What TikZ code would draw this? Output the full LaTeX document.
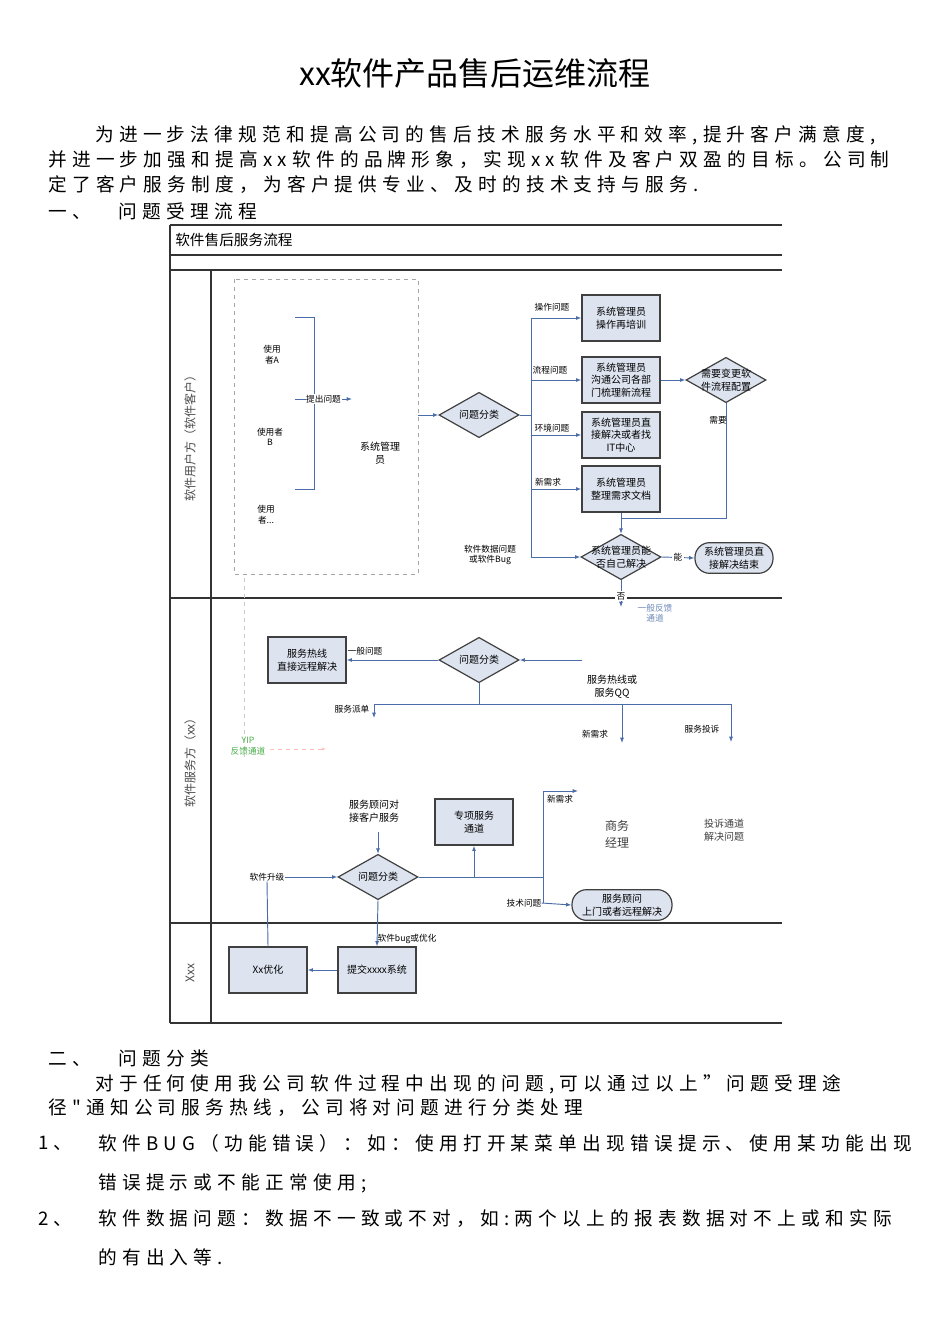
\documentclass[tikz,border=0pt]{standalone}
\usepackage{fontspec}
\setmainfont{Noto Sans CJK SC}
\newfontfamily\bodyfont[LetterSpace=28]{Noto Sans CJK SC}
\usetikzlibrary{shapes.geometric,arrows.meta}
\definecolor{bfill}{HTML}{DDE4F0}
\definecolor{lblue}{HTML}{4A6DA7}
\begin{document}
\begin{tikzpicture}[x=0.75pt,y=-0.75pt,
  body/.style={anchor=west,inner sep=0pt,font=\bodyfont\fontsize{14}{16}\selectfont},
  sm/.style={inner sep=0pt,font=\fontsize{6.5}{8}\selectfont,align=center},
  md/.style={inner sep=0pt,font=\fontsize{7.5}{9.5}\selectfont,align=center},
  bx/.style={draw=black!75,line width=0.9pt,fill=bfill,minimum width=58.5pt,minimum height=34.5pt,inner sep=1pt,align=center,font=\fontsize{7.5}{9.5}\selectfont},
  rbx/.style={bx,rounded corners=11pt,minimum height=23pt,minimum width=58.5pt},
  dia/.style={draw=black!75,line width=0.9pt,fill=bfill,diamond,minimum width=60pt,minimum height=34pt,inner sep=0pt},
  ln/.style={draw=lblue,line width=0.7pt},
  ar/.style={ln,-{Latex[length=4pt,width=3pt]}},
  frame/.style={line width=0.9pt,black!80}]
\useasboundingbox (0,0) rectangle (950,1344);
\fill[white] (0,0) rectangle (950,1344);
% title and text
\node[inner sep=0pt,font=\fontsize{24}{28}\selectfont] (title) at (475,73) {xx软件产品售后运维流程};
\node[body] (p1) at (95,135) {为进一步法律规范和提高公司的售后技术服务水平和效率,提升客户满意度,};
\node[body] (p2) at (48,160) {并进一步加强和提高xx软件的品牌形象，实现xx软件及客户双盈的目标。公司制};
\node[body] (p3) at (48,185) {定了客户服务制度，为客户提供专业、及时的技术支持与服务.};
\node[body] (h1) at (48,211) {一、\quad\ 问题受理流程};
% frame
\draw[frame] (170,225) -- (782,225);
\draw[frame] (170,255) -- (782,255);
\draw[frame] (170,270) -- (782,270);
\draw[frame] (170,598) -- (782,598);
\draw[frame] (170,923) -- (782,923);
\draw[frame] (170,1023) -- (782,1023);
\draw[frame] (170,225) -- (170,1023);
\draw[frame] (211,270) -- (211,1023);
\node[anchor=west,inner sep=0pt,font=\fontsize{11}{13}\selectfont] (hdr) at (175,240) {软件售后服务流程};
\node[rotate=90,md,text=black!70,font=\fontsize{9}{11}\selectfont] (lane1) at (190,435) {软件用户方（软件客户）};
\node[rotate=90,md,text=black!70,font=\fontsize{9}{11}\selectfont] (lane2) at (190,760) {软件服务方（xx）};
\node[rotate=90,md,text=black!70,font=\fontsize{9}{11}\selectfont] (lane3) at (190,973) {Xxx};
% lane 1
\draw[dashed,black!35,line width=0.6pt] (234,279) rectangle (418,574);
\coordinate (dbr) at (418,415);
\node[sm] (ua) at (272,355) {使用\\者A};
\node[sm] (ub) at (270,437) {使用者\\B};
\node[sm] (uc) at (266,515) {使用\\者...};
\node[md] (sa) at (380,453) {系统管理\\员};
\draw[ln] (295,317) -- (314,317) -- (314,489) -- (295,489);
\coordinate (tq0) at (295,399);
\coordinate (tq1) at (352,399);
\draw[ar] (tq0) -- node[sm,fill=white,inner sep=0.5pt] {提出问题} (tq1);
\node[dia] (d1) at (479,415) {};
\node[md] (d1t) at (d1) {问题分类};
\draw[ar] (dbr) -- (d1.west);
\node[bx] (b1) at (621,318) {系统管理员\\操作再培训};
\node[bx] (b2) at (621,380) {系统管理员\\沟通公司各部\\门梳理新流程};
\node[bx] (b3) at (621,435) {系统管理员直\\接解决或者找\\IT中心};
\node[bx] (b4) at (621,489) {系统管理员\\整理需求文档};
\coordinate (tr0) at (531,318);
\coordinate (tr1) at (531,557);
\draw[ln] (d1.east) -- (531,415);
\draw[ln] (tr0) -- (tr1);
\draw[ar] (tr0) -- (b1.west);
\draw[ar] (531,380) -- (b2.west);
\draw[ar] (531,435) -- (b3.west);
\draw[ar] (531,489) -- (b4.west);
\node[sm] (l1) at (552,307) {操作问题};
\node[sm] (l2) at (550,370) {流程问题};
\node[sm] (l3) at (552,428) {环境问题};
\node[sm] (l4) at (548,482) {新需求};
\node[dia] (d2) at (726,380) {};
\node[md] (d2t) at (d2) {需要变更软\\件流程配置};
\draw[ar] (b2.east) -- (d2.west);
\node[dia] (d3) at (621,557) {};
\node[md] (d3t) at (d3) {系统管理员能\\否自己解决};
\draw[ln] (d2.south) -- (726,518) -- (621,518);
\draw[ar] (b4.south) -- (d3.north);
\node[sm] (l5) at (718,420) {需要};
\draw[ar] (tr1) -- (d3.west);
\node[sm] (l6) at (490,555) {软件数据问题\\或软件Bug};
\node[rbx] (e1) at (734,558) {系统管理员直\\接解决结束};
\draw[ar] (d3.east) -- node[sm,fill=white,inner sep=1pt] {能} (e1.west);
\coordinate (no) at (621,607);
\draw[ar] (d3.south) -- node[sm,fill=white,inner sep=1pt,pos=0.6] {否} (no);
\node[sm,text=lblue!80] (l7) at (655,613) {一般反馈\\通道};
% lane 2
\draw[dashed,black!20,line width=0.6pt] (244,578) -- (244,757);
\node[sm,text=green!55!black!70] (vip) at (248,746) {YIP\\反馈通道};
\coordinate (vip0) at (270,749);
\coordinate (vip1) at (326,749);
\draw[dashed,red!25,line width=0.6pt,-{Latex[length=3pt]}] (vip0) -- (vip1);
\node[bx] (b5) at (307,660) {服务热线\\直接远程解决};
\node[dia] (d4) at (479,660) {};
\node[md] (d4t) at (d4) {问题分类};
\coordinate (hot) at (582,660);
\draw[ar] (hot) -- (d4.east);
\node[md] (l8) at (612,687) {服务热线或\\服务QQ};
\draw[ar] (d4.west) -- (b5.east);
\node[sm] (l9) at (365,651) {一般问题};
\draw[ln] (d4.south) -- (479,704);
\draw[ln] (374,704) -- (731,704);
\coordinate (a1) at (374,718);
\coordinate (a2) at (622,743);
\coordinate (a3) at (731,742);
\draw[ar] (374,704) -- (a1);
\draw[ar] (622,704) -- (a2);
\draw[ar] (731,704) -- (a3);
\node[sm] (l10) at (352,709) {服务派单};
\node[sm] (l11) at (595,734) {新需求};
\node[sm] (l12) at (702,729) {服务投诉};
\node[md] (gw) at (374,811) {服务顾问对\\接客户服务};
\node[dia] (d5) at (378,877) {};
\node[md] (d5t) at (d5) {问题分类};
\coordinate (gw1) at (378,832);
\draw[ar] (gw1) -- (d5.north);
\node[bx] (b6) at (474,822) {专项服务\\通道};
\node[bx] (b7) at (268,970) {Xx优化};
\node[bx] (b8) at (377,970) {提交xxxx系统};
\node[sm] (l13) at (267,877) {软件升级};
\draw[ln] (b7.north) -- (l13.south);
\draw[ar] (l13.east) -- (d5.west);
\draw[ln] (d5.east) -- (543,877);
\draw[ar] (474,877) -- (b6.south);
\draw[ln] (543,791) -- (543,903);
\coordinate (nx) at (578,791);
\draw[ar] (543,791) -- (nx);
\node[sm] (l14) at (560,799) {新需求};
\node[rbx,minimum width=75pt] (e2) at (622,905) {服务顾问\\上门或者远程解决};
\node[sm] (l15) at (524,903) {技术问题};
\draw[ar] (l15.east) -- (e2.west);
\node[md,font=\fontsize{9}{13}\selectfont,text=black!75] (sw) at (617,834) {商务\\经理};
\node[md,text=black!75] (ts) at (724,830) {投诉通道\\解决问题};
\draw[ar] (d5.south) -- (b8.north);
\node[sm] (l16) at (407,939) {软件bug或优化};
\draw[ar] (b8.west) -- (b7.east);
% lower text
\node[body] (h2) at (48,1058) {二、\quad\ 问题分类};
\node[body] (q1) at (95,1084) {对于任何使用我公司软件过程中出现的问题,可以通过以上”问题受理途};
\node[body] (q2) at (48,1108) {径"通知公司服务热线，公司将对问题进行分类处理};
\node[body] (n1) at (38,1143) {1、};
\node[body] (n1a) at (98,1143) {软件BUG（功能错误）：如：使用打开某菜单出现错误提示、使用某功能出现};
\node[body] (n1b) at (98,1183) {错误提示或不能正常使用;};
\node[body] (n2) at (38,1219) {2、};
\node[body] (n2a) at (98,1219) {软件数据问题：数据不一致或不对，如:两个以上的报表数据对不上或和实际};
\node[body] (n2b) at (98,1257) {的有出入等.};
\end{tikzpicture}
\end{document}
